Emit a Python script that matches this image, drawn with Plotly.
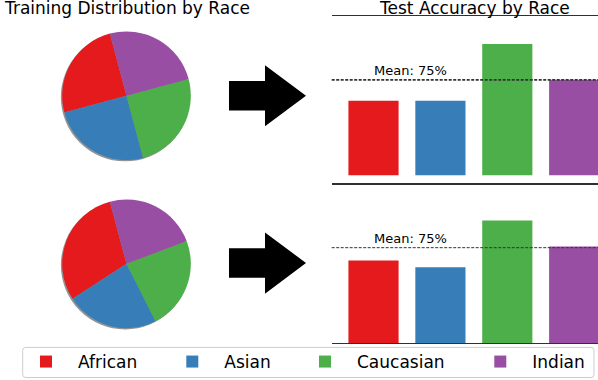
import plotly.graph_objects as go

# ---------------- data ----------------
RACES = ["African", "Asian", "Caucasian", "Indian"]
COLORS = ["#e41a1c", "#377eb8", "#4daf4a", "#984ea3"]

TRAIN_DIST_TOP = [25, 25, 25, 25]          # balanced training set (%)
TRAIN_DIST_BOTTOM = [30, 23.3, 23.3, 23.4]  # imbalanced training set (%)

ACC_TOP = [58.5, 58.5, 103.2, 75.0]         # test accuracy bars (top)
ACC_BOTTOM = [65.0, 59.6, 96.4, 76.0]       # test accuracy bars (bottom)

MEAN_ACC = 75
MEAN_LABEL = "Mean: 75%"
TITLE_LEFT = "Training Distribution by Race"
TITLE_RIGHT = "Test Accuracy by Race"

# ---------------- layout helpers ----------------
W, H = 598, 380
FONT = "DejaVu Sans"


def fx(x):
    return x / W


def fy(y):
    return 1 - y / H


fig = go.Figure()

# ---------------- pies ----------------
PIE_R = 64.5
PIE_CENTERS = [(126.5, 96.0), (126.5, 264.5)]
START_ANGLE = 105  # matplotlib-style start angle (deg, ccw from 3 o'clock)


def pie_domain(cx, cy, dx=0.0, dy=0.0):
    return dict(x=[fx(cx - PIE_R + dx), fx(cx + PIE_R + dx)],
                y=[fy(cy + PIE_R + dy), fy(cy - PIE_R + dy)])


for (cx, cy), vals in zip(PIE_CENTERS, [TRAIN_DIST_TOP, TRAIN_DIST_BOTTOM]):
    rot = 90 - START_ANGLE - 360 * vals[0] / sum(vals)
    # shadow
    fig.add_trace(go.Pie(
        values=[1], labels=["shadow"], domain=pie_domain(cx, cy, -1.3, 1.3),
        marker=dict(colors=["rgba(40,40,40,0.5)"]), textinfo="none",
        hoverinfo="skip", showlegend=False, sort=False))
    fig.add_trace(go.Pie(
        values=vals, labels=RACES, domain=pie_domain(cx, cy),
        marker=dict(colors=COLORS, line=dict(width=0)),
        textinfo="none", sort=False, direction="counterclockwise",
        rotation=rot, showlegend=False))

# ---------------- bars ----------------
LEGEND_WIDTHS = [77.3, 63.7, 106.3, 60]
for i, race in enumerate(RACES):
    fig.add_trace(go.Bar(
        x=[race], y=[ACC_TOP[i]], marker=dict(color=COLORS[i], line=dict(width=0)),
        width=0.75, name=race, legendgroup=race, showlegend=True,
        legendwidth=LEGEND_WIDTHS[i], xaxis="x", yaxis="y"))
    fig.add_trace(go.Bar(
        x=[race], y=[ACC_BOTTOM[i]], marker=dict(color=COLORS[i], line=dict(width=0)),
        width=0.75, name=race, legendgroup=race, showlegend=False,
        xaxis="x2", yaxis="y2"))

XDOM = [fx(331.7), 1]
XRANGE = [-0.625, 3.356]
axis_common = dict(showgrid=False, zeroline=False, showticklabels=False,
                   ticks="", fixedrange=True)
xcommon = dict(axis_common, showline=True, mirror=True, linecolor="#303030",
               linewidth=1, domain=XDOM, range=XRANGE, type="category",
               categoryorder="array", categoryarray=RACES)

# ---------------- shapes ----------------
shapes = []
for xr, yr, lw in [("x domain", "y", 1.6), ("x2 domain", "y2", 1.0)]:
    shapes.append(dict(type="line", xref=xr, yref=yr, x0=0, x1=1,
                       y0=MEAN_ACC, y1=MEAN_ACC,
                       line=dict(color="#333333", width=lw, dash="3px,1.5px")))


def arrow_path(cy):
    pts = [(229, cy - 14.7), (265, cy - 14.7), (265, cy - 30.7), (306, cy),
           (265, cy + 30.7), (265, cy + 14.7), (229, cy + 14.7)]
    s = "M " + " L ".join(f"{fx(x):.5f},{fy(y):.5f}" for x, y in pts) + " Z"
    return s


for cy in (96.0, 263.7):
    shapes.append(dict(type="path", xref="paper", yref="paper",
                       path=arrow_path(cy), fillcolor="black",
                       line=dict(width=0), layer="above"))


def rounded_rect(x0, y0, x1, y1, r):
    p = [
        f"M {fx(x0 + r):.5f},{fy(y0):.5f}",
        f"L {fx(x1 - r):.5f},{fy(y0):.5f}",
        f"Q {fx(x1):.5f},{fy(y0):.5f} {fx(x1):.5f},{fy(y0 + r):.5f}",
        f"L {fx(x1):.5f},{fy(y1 - r):.5f}",
        f"Q {fx(x1):.5f},{fy(y1):.5f} {fx(x1 - r):.5f},{fy(y1):.5f}",
        f"L {fx(x0 + r):.5f},{fy(y1):.5f}",
        f"Q {fx(x0):.5f},{fy(y1):.5f} {fx(x0):.5f},{fy(y1 - r):.5f}",
        f"L {fx(x0):.5f},{fy(y0 + r):.5f}",
        f"Q {fx(x0):.5f},{fy(y0):.5f} {fx(x0 + r):.5f},{fy(y0):.5f}",
        "Z",
    ]
    return " ".join(p)


shapes.append(dict(type="path", xref="paper", yref="paper",
                   path=rounded_rect(22.7, 348.3, 594, 378.5, 3),
                   fillcolor="rgba(255,255,255,0.8)",
                   line=dict(color="#cccccc", width=1), layer="below"))

# ---------------- annotations ----------------
annotations = [
    dict(text=TITLE_LEFT, xref="paper", yref="paper", x=fx(126.5), y=fy(7.6),
         xanchor="center", yanchor="middle", showarrow=False,
         font=dict(family=FONT, size=17, color="black")),
    dict(text=TITLE_RIGHT, xref="paper", yref="paper", x=fx(474), y=fy(7.6),
         xanchor="center", yanchor="middle", showarrow=False,
         font=dict(family=FONT, size=17, color="black")),
]
for xr, yr in [("x", "y"), ("x2", "y2")]:
    annotations.append(dict(text=MEAN_LABEL, xref=xr, yref=yr, x=RACES[0],
                            y=MEAN_ACC, xanchor="left", yanchor="bottom",
                            xshift=-2, showarrow=False,
                            font=dict(family=FONT, size=13, color="black")))

fig.update_layout(
    width=W, height=H,
    margin=dict(l=0, r=0, t=0, b=0, pad=0),
    paper_bgcolor="white", plot_bgcolor="rgba(0,0,0,0)",
    font=dict(family=FONT, size=13, color="black"),
    barmode="overlay",
    xaxis=dict(xcommon, anchor="y"),
    yaxis=dict(axis_common, domain=[fy(184), fy(16)], range=[-6.5, 125.2],
               anchor="x", showline=False),
    xaxis2=dict(xcommon, anchor="y2"),
    yaxis2=dict(axis_common, domain=[fy(344), fy(184.3)], range=[0, 125.2],
                anchor="x2", showline=False),
    shapes=shapes,
    annotations=annotations,
    showlegend=True,
    legend=dict(orientation="h", x=fx(14.7), y=fy(362.7), xanchor="left",
                yanchor="middle", bgcolor="rgba(0,0,0,0)", borderwidth=0,
                itemwidth=54, font=dict(family=FONT, size=17, color="black"),
                traceorder="normal"),
    hovermode=False,
)

fig.write_html(
    "out.html",
    config={"displayModeBar": False, "staticPlot": False},
    post_script="document.body.style.margin='0';document.body.style.overflow='hidden';",
)
